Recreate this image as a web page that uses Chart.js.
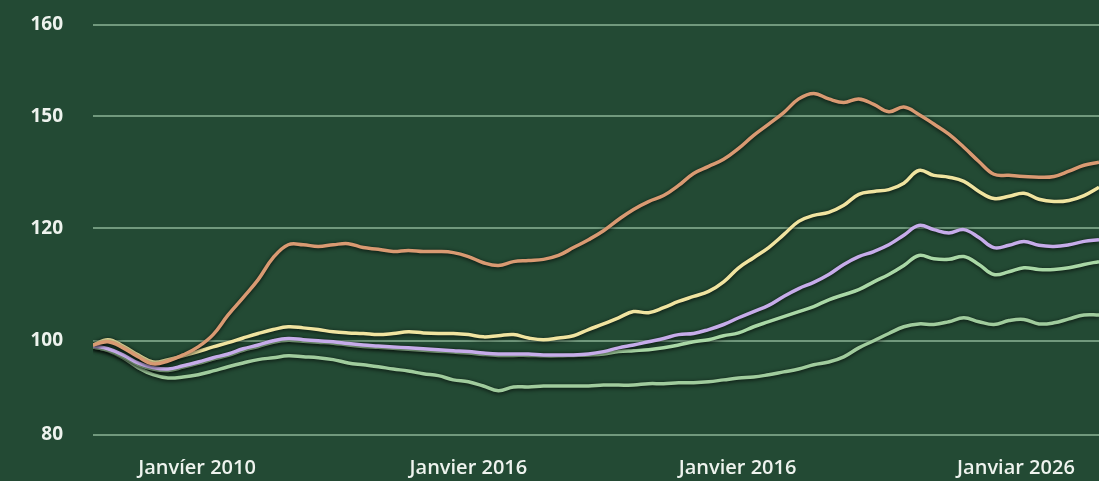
<!DOCTYPE html>
<html>
<head>
<meta charset="utf-8">
<script src="https://cdn.jsdelivr.net/npm/chart.js@4.4.1/dist/chart.umd.min.js"></script>
<style>
  html, body { margin: 0; padding: 0; background: #234a34; overflow: hidden; }
  #wrap { width: 1099px; height: 481px; position: relative; }
</style>
</head>
<body>
<div id="wrap"><canvas id="c"></canvas></div>
<script>
// ---- data (index values) ----
const xTickPositions = [6.93, 25, 42.93, 61.47];
const xTickLabels = ['Janvíer 2010', 'Janvier 2016', 'Janvier 2016', 'Janviar 2026'];
const yTickValues = [80, 100, 120, 150, 160];

const orange = [99.1,99.8,98.5,96.6,95.1,95.7,97.0,98.7,101.1,104.6,107.7,110.9,114.8,117.1,117.1,116.8,117.1,117.3,116.6,116.3,115.9,116.1,115.9,115.9,115.7,115.0,113.9,113.4,114.1,114.3,114.5,115.2,116.6,118.0,119.6,122.4,125.1,127.2,128.8,131.5,134.7,136.6,138.5,141.4,144.9,147.9,150.4,151.9,152.5,151.9,151.5,151.9,151.3,150.5,151.0,150.2,147.9,145.2,141.7,137.9,134.5,134.2,133.9,133.7,133.9,135.3,136.9,137.7];
const yellow = [99.1,100.2,98.9,97.0,95.5,96.0,96.8,97.7,98.7,99.6,100.5,101.3,102.0,102.5,102.3,102.0,101.6,101.4,101.3,101.1,101.3,101.6,101.4,101.3,101.3,101.1,100.7,100.9,101.1,100.5,100.2,100.5,100.9,102.0,103.0,104.1,105.2,105.0,105.9,107.0,107.9,108.8,110.5,113.0,114.8,116.6,118.9,121.9,123.5,124.3,126.2,129.1,129.9,130.4,132.1,135.5,134.2,133.7,132.6,129.9,128.0,128.6,129.4,127.8,127.2,127.5,128.8,131.0];
const purple = [98.9,98.3,97.0,95.3,94.3,94.0,94.7,95.5,96.4,97.2,98.3,99.1,100.0,100.4,100.2,100.0,99.8,99.4,99.1,98.9,98.7,98.5,98.3,98.1,97.9,97.7,97.4,97.2,97.2,97.2,97.0,97.0,97.0,97.2,97.7,98.5,99.1,99.8,100.4,101.1,101.3,102.0,102.9,104.1,105.2,106.3,107.9,109.3,110.4,111.8,113.6,115.0,115.9,117.1,118.8,120.8,119.8,119.2,119.8,118.4,116.6,117.0,117.7,117.0,116.8,117.1,117.7,118.0];
const midGreen = [98.7,98.0,96.7,95.0,94.0,93.7,94.4,95.2,96.1,96.9,98.0,98.8,99.7,100.1,99.9,99.7,99.5,99.1,98.8,98.6,98.4,98.2,98.0,97.8,97.6,97.4,97.1,96.9,96.9,96.9,96.8,96.8,96.9,97.0,97.2,97.7,97.9,98.1,98.5,99.1,99.8,100.2,100.9,101.4,102.5,103.4,104.3,105.2,106.1,107.3,108.2,109.1,110.5,111.8,113.4,115.2,114.6,114.5,115.0,113.6,111.8,112.3,113.0,112.7,112.7,113.0,113.6,114.1];
const lowGreen = [98.7,97.9,96.4,94.3,92.8,92.1,92.3,92.8,93.6,94.5,95.3,96.0,96.4,96.8,96.6,96.4,96.0,95.3,94.9,94.5,94.0,93.6,93.0,92.6,91.7,91.3,90.4,89.4,90.2,90.2,90.4,90.4,90.4,90.4,90.6,90.6,90.6,90.9,90.9,91.1,91.1,91.3,91.7,92.1,92.3,92.8,93.4,94.0,94.9,95.5,96.6,98.5,100.0,101.3,102.5,103.0,102.9,103.4,104.1,103.4,102.9,103.6,103.8,103.0,103.2,103.9,104.6,104.6];

const xIndex = orange.map((_, i) => i);

// ---- piecewise y scale (the picture's gridlines are unevenly spaced) ----
class PiecewiseScale extends Chart.LinearScale {
  _frac(value) {
    const v = this.options.breakValues, f = this.options.breakFractions;
    if (value <= v[0]) return f[0] + (value - v[0]) * (f[1] - f[0]) / (v[1] - v[0]);
    for (let i = 0; i < v.length - 1; i++) {
      if (value <= v[i + 1]) return f[i] + (value - v[i]) * (f[i + 1] - f[i]) / (v[i + 1] - v[i]);
    }
    const n = v.length - 1;
    return f[n] + (value - v[n]) * (f[n] - f[n - 1]) / (v[n] - v[n - 1]);
  }
  getPixelForValue(value) {
    if (value === null || value === undefined) return NaN;
    return this.getPixelForDecimal(this._frac(value));
  }
  getValueForPixel(pixel) {
    const d = this.getDecimalForPixel(pixel);
    const v = this.options.breakValues, f = this.options.breakFractions;
    for (let i = 0; i < v.length - 1; i++) {
      if (d <= f[i + 1]) return v[i] + (d - f[i]) * (v[i + 1] - v[i]) / (f[i + 1] - f[i]);
    }
    return v[v.length - 1];
  }
}
PiecewiseScale.id = 'piecewise';
PiecewiseScale.defaults = Chart.LinearScale.defaults;
Chart.register(PiecewiseScale);

const bgPlugin = {
  id: 'bg',
  beforeDraw(chart) {
    const ctx = chart.ctx;
    ctx.save();
    ctx.fillStyle = '#234a34';
    ctx.fillRect(0, 0, chart.width, chart.height);
    ctx.restore();
  }
};
const shadowPlugin = {
  id: 'lineShadow',
  beforeDatasetDraw(chart) {
    const ctx = chart.ctx;
    ctx.save();
    ctx.shadowColor = 'rgba(0,0,0,0.8)';
    ctx.shadowBlur = 4;
    ctx.shadowOffsetX = 0;
    ctx.shadowOffsetY = 1;
  },
  afterDatasetDraw(chart) {
    chart.ctx.restore();
  }
};

const mk = (data, color) => ({
  data, borderColor: color, borderWidth: 3.5, pointRadius: 0, tension: 0.4, fill: false
});

new Chart(document.getElementById('c'), {
  type: 'line',
  data: {
    labels: xIndex,
    datasets: [
      mk(orange, '#d99a72'),
      mk(yellow, '#f0e4a0'),
      mk(purple, '#c6acea'),
      mk(midGreen, '#a9d8a6'),
      mk(lowGreen, '#a0cc9d')
    ]
  },
  options: {
    responsive: true,
    maintainAspectRatio: false,
    animation: false,
    layout: { padding: { left: 20, right: 0, top: 25, bottom: 0 } },
    plugins: { legend: { display: false }, tooltip: { enabled: false } },
    scales: {
      x: {
        type: 'linear',
        min: 0,
        max: xIndex.length - 1,
        grid: { display: false, drawTicks: false },
        border: { display: false },
        afterBuildTicks(axis) { axis.ticks = xTickPositions.map(v => ({ value: v })); },
        afterFit(axis) { axis.height = 46; },
        ticks: {
          autoSkip: false,
          maxRotation: 0,
          padding: 21,
          color: '#eef3ee',
          font: { family: 'Open Sans', size: 20, weight: '600' },
          callback(value) {
            const i = xTickPositions.indexOf(value);
            return i >= 0 ? xTickLabels[i] : '';
          }
        }
      },
      y: {
        type: 'piecewise',
        min: 80,
        max: 160,
        breakValues: yTickValues,
        breakFractions: [0, 0.2298, 0.5037, 0.7775, 1],
        afterBuildTicks(axis) { axis.ticks = yTickValues.map(v => ({ value: v })); },
        afterFit(axis) { axis.width = 73; axis.paddingTop = 0; axis.paddingBottom = 0; },
        grid: { color: 'rgba(140,180,150,0.75)', lineWidth: 2, drawTicks: false },
        border: { display: false },
        ticks: {
          crossAlign: 'near',
          padding: 30,
          color: '#eef3ee',
          font: { family: 'Open Sans', size: 19, weight: '700' }
        }
      }
    }
  },
  plugins: [bgPlugin, shadowPlugin]
});
</script>
</body>
</html>
